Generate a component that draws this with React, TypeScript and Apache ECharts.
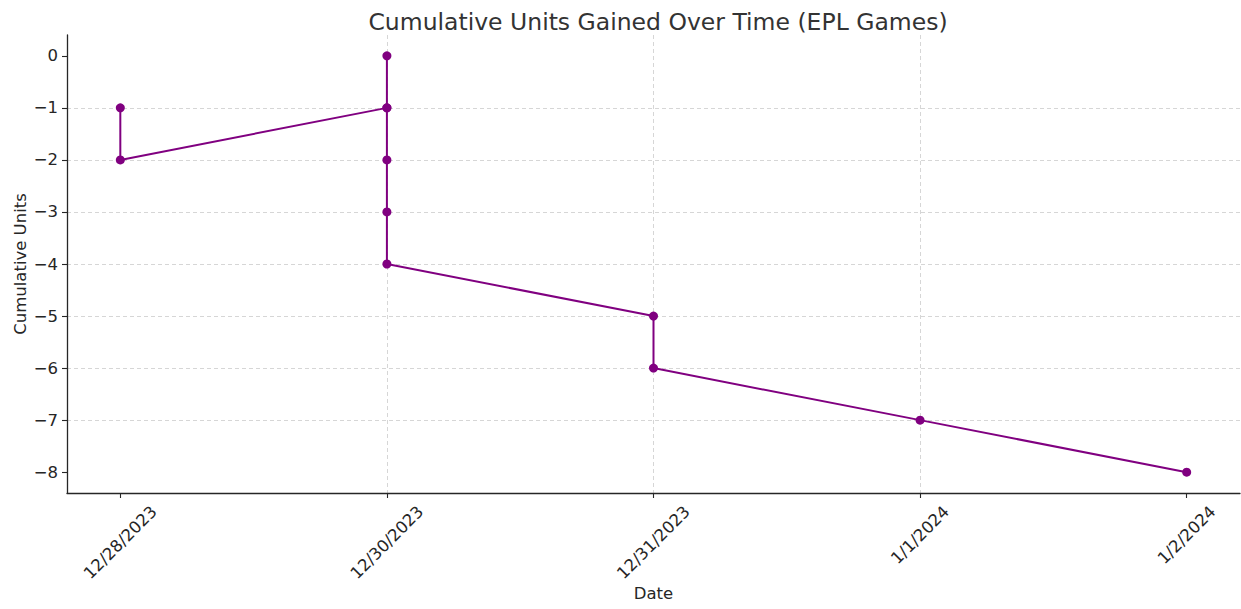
import React, { useEffect, useRef } from "react";
import * as echarts from "echarts";

const dateLabels = ["12/28/2023", "12/30/2023", "12/31/2023", "1/1/2024", "1/2/2024"];
const xTickIndex = [0, 1, 2, 3, 4];
// index of the date for each game, in order
const gameDateIndex = [0, 0, 1, 1, 1, 1, 1, 1, 2, 2, 3, 4];
const cumulativeUnits = [-1, -2, -1, 0, -1, -2, -3, -4, -5, -6, -7, -8];
const yTicks = [0, -1, -2, -3, -4, -5, -6, -7, -8];

const FONT = "DejaVu Sans";
const TXT = "#262626";
const LABEL_SIZE = 16.5;

export default function App() {
  const ref = useRef<HTMLDivElement>(null);
  useEffect(() => {
    if (!ref.current) return;
    const chart = echarts.init(ref.current, null, { renderer: "svg" });
    const data = gameDateIndex.map((d, i) => [d, cumulativeUnits[i]]);

    // emulate matplotlib's centered rotated labels (bbox top at fixed pad)
    const canvas = document.createElement("canvas");
    const ctx = canvas.getContext("2d")!;
    ctx.font = `${LABEL_SIZE}px "${FONT}"`;
    const lineH = LABEL_SIZE * 1.17;
    const halfH = dateLabels.map((s) => ((ctx.measureText(s).width + lineH) * Math.SQRT1_2) / 2);
    const minHalf = Math.min(...halfH);
    const rich: Record<string, any> = {};
    dateLabels.forEach((_, i) => {
      const D = halfH[i] - minHalf;
      const p = D * Math.SQRT2;
      rich["l" + i] = {
        fontFamily: FONT,
        fontSize: LABEL_SIZE,
        color: TXT,
        padding: [p, p, 0, 0],
      };
    });

    chart.setOption({
      animation: false,
      backgroundColor: "#ffffff",
      textStyle: { fontFamily: FONT },
      title: {
        text: "Cumulative Units Gained Over Time (EPL Games)",
        left: 653,
        textAlign: "center",
        top: 5,
        textStyle: { fontFamily: FONT, fontSize: 23.5, fontWeight: "normal", color: "#333333" },
      },
      grid: {
        left: 67,
        right: 1,
        top: 35,
        bottom: 116,
        containLabel: false,
        outerBoundsMode: "none",
      },
      xAxis: {
        type: "value",
        min: -0.2,
        max: 4.2,
        minInterval: 1,
        maxInterval: 1,
        name: "Date",
        nameLocation: "middle",
        nameGap: 92,
        nameMoveOverlap: false,
        nameTextStyle: { fontFamily: FONT, fontSize: LABEL_SIZE, color: TXT },
        axisLine: { show: true, onZero: false, lineStyle: { color: "#262626", width: 1.3 } },
        axisTick: {
          show: true,
          length: 5,
          customValues: xTickIndex,
          lineStyle: { color: "#262626", width: 1.1 },
        },
        axisLabel: {
          show: true,
          rotate: 45,
          align: "center",
          verticalAlign: "middle",
          customValues: xTickIndex,
          fontFamily: FONT,
          fontSize: LABEL_SIZE,
          color: TXT,
          margin: 9 + minHalf,
          formatter: (v: number) => {
            const i = Math.round(v);
            return dateLabels[i] ? `{l${i}|${dateLabels[i]}}` : "";
          },
          rich,
        },
        splitLine: {
          show: true,
          showMinLine: false,
          showMaxLine: false,
          lineStyle: { color: "#cccccc", type: [4, 3], width: 0.8 },
        },
      },
      yAxis: {
        type: "value",
        min: -8.4,
        max: 0.4,
        minInterval: 1,
        maxInterval: 1,
        name: "Cumulative Units",
        nameLocation: "middle",
        nameGap: 38,
        nameMoveOverlap: false,
        nameRotate: 90,
        nameTextStyle: { fontFamily: FONT, fontSize: LABEL_SIZE, color: TXT },
        axisLine: { show: true, onZero: false, lineStyle: { color: "#262626", width: 1.3 } },
        axisTick: {
          show: true,
          length: 5,
          customValues: yTicks,
          lineStyle: { color: "#262626", width: 1.1 },
        },
        axisLabel: {
          fontFamily: FONT,
          fontSize: LABEL_SIZE,
          color: TXT,
          margin: 9,
          customValues: yTicks,
          formatter: (v: number) => (v < 0 ? "\u2212" + Math.abs(v) : String(v)),
        },
        splitLine: {
          show: true,
          showMinLine: false,
          showMaxLine: false,
          lineStyle: { color: "#cccccc", type: [4, 3], width: 0.8 },
        },
      },
      series: [
        {
          type: "line",
          data,
          symbol: "circle",
          symbolSize: 9,
          lineStyle: { color: "#800080", width: 2 },
          itemStyle: { color: "#800080" },
        },
      ],
    });
    return () => chart.dispose();
  }, []);
  return (
    <div
      ref={ref}
      style={{ position: "absolute", left: 0, top: 0, width: 1241, height: 609 }}
    />
  );
}
